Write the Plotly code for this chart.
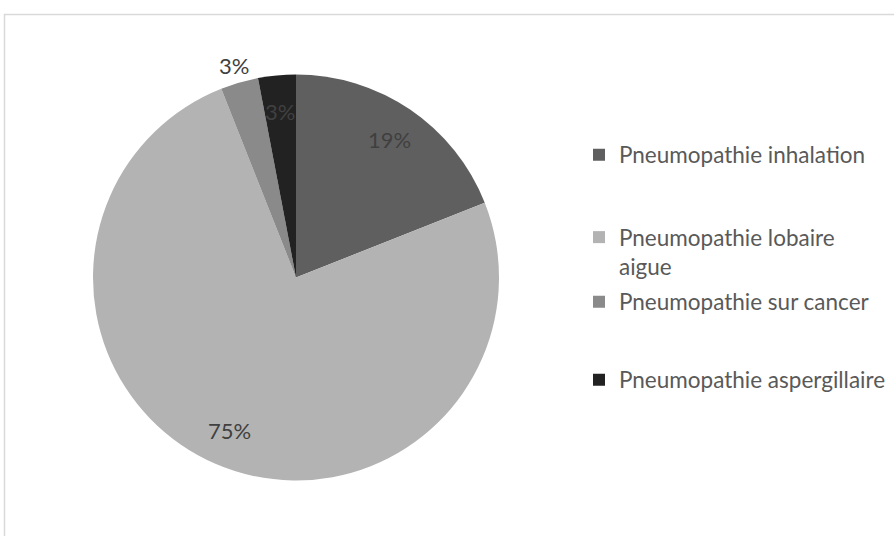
import math
import plotly.graph_objects as go

labels = ["Pneumopathie inhalation", "Pneumopathie lobaire aigue",
          "Pneumopathie sur cancer", "Pneumopathie aspergillaire"]
legend_names = ["Pneumopathie inhalation", "Pneumopathie lobaire<br>aigue",
                "Pneumopathie sur cancer", "Pneumopathie aspergillaire"]
values = [19, 75, 3, 3]
pct_text = ["19%", "75%", "3%", "3%"]
label_outside = [False, False, True, False]
colors = ["#5f5f5f", "#b3b3b3", "#8a8a8a", "#222222"]

W, H = 894, 536
CX, CY, R = 296, 277.5, 203
FONT = "Lato"

fig = go.Figure()
fig.add_trace(go.Pie(
    labels=labels, values=values, sort=False, direction="clockwise", rotation=0,
    marker=dict(colors=colors, line=dict(width=0)),
    textinfo="none", hoverinfo="label+percent", showlegend=False,
    domain=dict(x=[(CX - R) / W, (CX + R) / W], y=[1 - (CY + R) / H, 1 - (CY - R) / H]),
))

# data labels placed at slice mid-angles
total = sum(values)
cum = 0
annotations = []
for v, t, out in zip(values, pct_text, label_outside):
    mid = (cum + v / 2) / total * 2 * math.pi
    cum += v
    r = R * (1.09 if out else 0.82)
    px = CX + r * math.sin(mid)
    py = CY - r * math.cos(mid)
    annotations.append(dict(x=px / W, y=1 - py / H, xref="paper", yref="paper",
                            xanchor="center", yanchor="middle",
                            text=t, showarrow=False,
                            font=dict(family=FONT, size=22, color="#404040")))

# legend entries (separate legends to reproduce Excel spacing)
legend_y = [155, 252, 302, 380]
for i, (name, c, ly) in enumerate(zip(legend_names, colors, legend_y)):
    key = "legend" if i == 0 else f"legend{i+1}"
    fig.add_trace(go.Scatter(x=[None], y=[None], mode="markers", name=name,
                             marker=dict(symbol="square", size=12, color=c),
                             showlegend=True, legend=key, hoverinfo="skip"))
    fig.update_layout(**{key: dict(x=579 / W, y=1 - ly / H, xanchor="left", yanchor="middle",
                                   valign="top", bgcolor="rgba(0,0,0,0)",
                                   font=dict(family=FONT, size=22.5, color="#595959"))})

fig.update_layout(
    width=W, height=H, margin=dict(l=0, r=0, t=0, b=0),
    paper_bgcolor="white", plot_bgcolor="white",
    xaxis=dict(visible=False), yaxis=dict(visible=False),
    annotations=annotations,
    shapes=[dict(type="rect", xref="paper", yref="paper",
                 x0=4.5 / W, x1=1.02, y0=-0.02, y1=1 - 14.5 / H,
                 line=dict(color="#d9d9d9", width=1.5), fillcolor="rgba(0,0,0,0)")],
)

fig.write_html("out.html", config={"displayModeBar": False},
               post_script="document.body.style.margin='0';")
